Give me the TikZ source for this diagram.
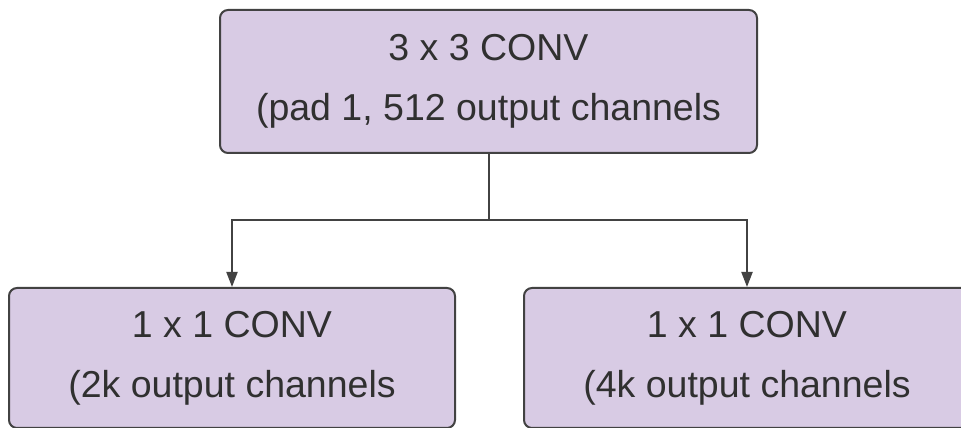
\documentclass[tikz,border=0pt]{standalone}
\usepackage{fontspec}
\setmainfont{Liberation Sans}
\usetikzlibrary{arrows.meta}
\definecolor{convfill}{HTML}{D8CBE4}
\definecolor{convline}{HTML}{424242}
\definecolor{convtext}{HTML}{303030}

\begin{document}
\begin{tikzpicture}[x=1pt, y=1pt, >={Triangle[length=15pt,width=11pt]},
  convbox/.style={draw=convline, line width=2pt, fill=convfill, rounded corners=8pt,
    inner sep=0pt, align=center, text=convtext,
    font=\fontsize{37.5}{60}\selectfont},
  link/.style={draw=convline, line width=2pt}]
  %% Frame of the picture
  \useasboundingbox (0,0) rectangle (961,428);
  \clip (0,0) rectangle (961,428);

  %% Top layer
  \node[convbox, minimum width=537pt, minimum height=143pt] (conv3) at (488.5,346.5)
    {3 x 3 CONV\\(pad 1, 512 output channels};

  %% Two branches (cut by the frame)
  \node[convbox, minimum width=446pt, minimum height=140pt] (convA) at (232,70)
    {1 x 1 CONV\\(2k output channels};
  \node[convbox, minimum width=446pt, minimum height=140pt] (convB) at (747,70)
    {1 x 1 CONV\\(4k output channels};

  %% Connectors
  \coordinate (fork) at (conv3.south |- 0,208);
  \draw[link] (conv3.south) -- (fork);
  \draw[link,->] (fork) -| (convA.north);
  \draw[link,->] (fork) -| (convB.north);
\end{tikzpicture}
\end{document}
